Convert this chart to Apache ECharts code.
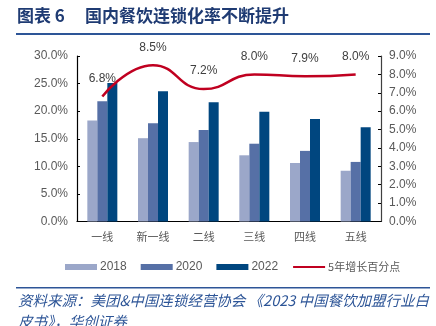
<!DOCTYPE html>
<html><head><meta charset="utf-8">
<style>html,body{margin:0;padding:0;background:#fff}#c{width:436px;height:326px}</style>
<script src="https://cdn.jsdelivr.net/npm/echarts@6/dist/echarts.min.js"></script>
</head><body><div id="c"></div>
<script>
var categories = ['一线','新一线','二线','三线','四线','五线'];
var v2018 = [18.3, 15.1, 14.4, 12.0, 10.6, 9.2];
var v2020 = [21.8, 17.8, 16.6, 14.1, 12.8, 10.8];
var v2022 = [25.1, 23.6, 21.6, 19.9, 18.6, 17.1];
var growth = [6.8, 8.5, 7.2, 8.0, 7.9, 8.0];
var seriesNames = ['2018','2020','2022','5年增长百分点'];

var chart = echarts.init(document.getElementById('c'), null, {renderer:'canvas'});
var sans = 'Liberation Sans, Arial, sans-serif';
var cjk = '"Noto Sans CJK SC", sans-serif';
var barColors = ['#9BA7C9','#5670A6','#00467F'];
var srcFont = 'italic 14.5px "Noto Sans CJK SC", sans-serif';
chart.setOption({
  animation:false,
  backgroundColor:'#fff',
  grid:{left:77, right:55, top:56, bottom:104.5, containLabel:false},
  graphic:[
    {type:'text', left:17, top:7, style:{text:'图表 6', font:'bold 17px "Noto Sans CJK SC", serif', fill:'#1F3B73'}},
    {type:'text', left:85, top:7, style:{text:'国内餐饮连锁化率不断提升', font:'bold 17px "Noto Sans CJK SC", serif', fill:'#1F3B73'}},
    {type:'rect', shape:{x:16, y:33, width:414, height:2}, style:{fill:'#2D5597'}},
    {type:'rect', shape:{x:16, y:287, width:414, height:1.5}, style:{fill:'#2D5597'}},
    {type:'text', left:18, top:293, style:{text:'资料来源：美团&中国连锁经营协会 《2023 中国餐饮加盟行业白', font:srcFont, fill:'#2D5597'}},
    {type:'text', left:18, top:314, style:{text:'皮书》，华创证券', font:srcFont, fill:'#2D5597'}}
  ],
  legend:{
    left:60, top:256, itemWidth:32, itemHeight:6, itemGap:14,
    textStyle:{fontFamily:sans, fontSize:12, color:'#595959', padding:[0,0,0,-2]},
    data:[
      {name:seriesNames[0], icon:'rect'},
      {name:seriesNames[1], icon:'rect'},
      {name:seriesNames[2], icon:'rect'},
      {name:seriesNames[3], itemStyle:{opacity:0}, textStyle:{fontFamily:cjk, fontSize:11}}
    ]
  },
  xAxis:{
    type:'category', data:categories,
    axisLine:{lineStyle:{color:'#000', width:1.2}},
    axisTick:{inside:true, length:3, lineStyle:{color:'#000'}},
    axisLabel:{fontFamily:cjk, fontSize:11, color:'#595959', margin:10}
  },
  yAxis:[
    {type:'value', min:0, max:30, interval:5,
     axisLine:{show:true, lineStyle:{color:'#000', width:1.2}},
     axisTick:{show:true, inside:true, length:3, lineStyle:{color:'#000'}},
     splitLine:{show:false},
     axisLabel:{fontFamily:sans, fontSize:12, color:'#595959', margin:9, formatter:function(v){return v.toFixed(1)+'%';}}},
    {type:'value', min:0, max:9, interval:1, position:'right',
     axisLine:{show:true, lineStyle:{color:'#404040', width:1.2}},
     axisTick:{show:true, inside:true, length:3, lineStyle:{color:'#000'}},
     splitLine:{show:false},
     axisLabel:{fontFamily:sans, fontSize:12, color:'#595959', margin:8, formatter:function(v){return v.toFixed(1)+'%';}}}
  ],
  series:[
    {name:seriesNames[0], type:'bar', data:v2018, barWidth:10, barGap:'0%', itemStyle:{color:barColors[0]}},
    {name:seriesNames[1], type:'bar', data:v2020, barWidth:10, barGap:'0%', itemStyle:{color:barColors[1]}},
    {name:seriesNames[2], type:'bar', data:v2022, barWidth:10, barGap:'0%', itemStyle:{color:barColors[2]}},
    {name:seriesNames[3], type:'line', yAxisIndex:1, data:growth, smooth:0.5, symbol:'circle', symbolSize:0, showSymbol:true,
     lineStyle:{color:'#C00020', width:2.5}, itemStyle:{color:'#C00020'},
     label:{show:true, position:'top', distance:12, fontFamily:sans, fontSize:12, color:'#404040',
            formatter:function(p){return p.value.toFixed(1)+'%';}}}
  ]
});
</script></body></html>
